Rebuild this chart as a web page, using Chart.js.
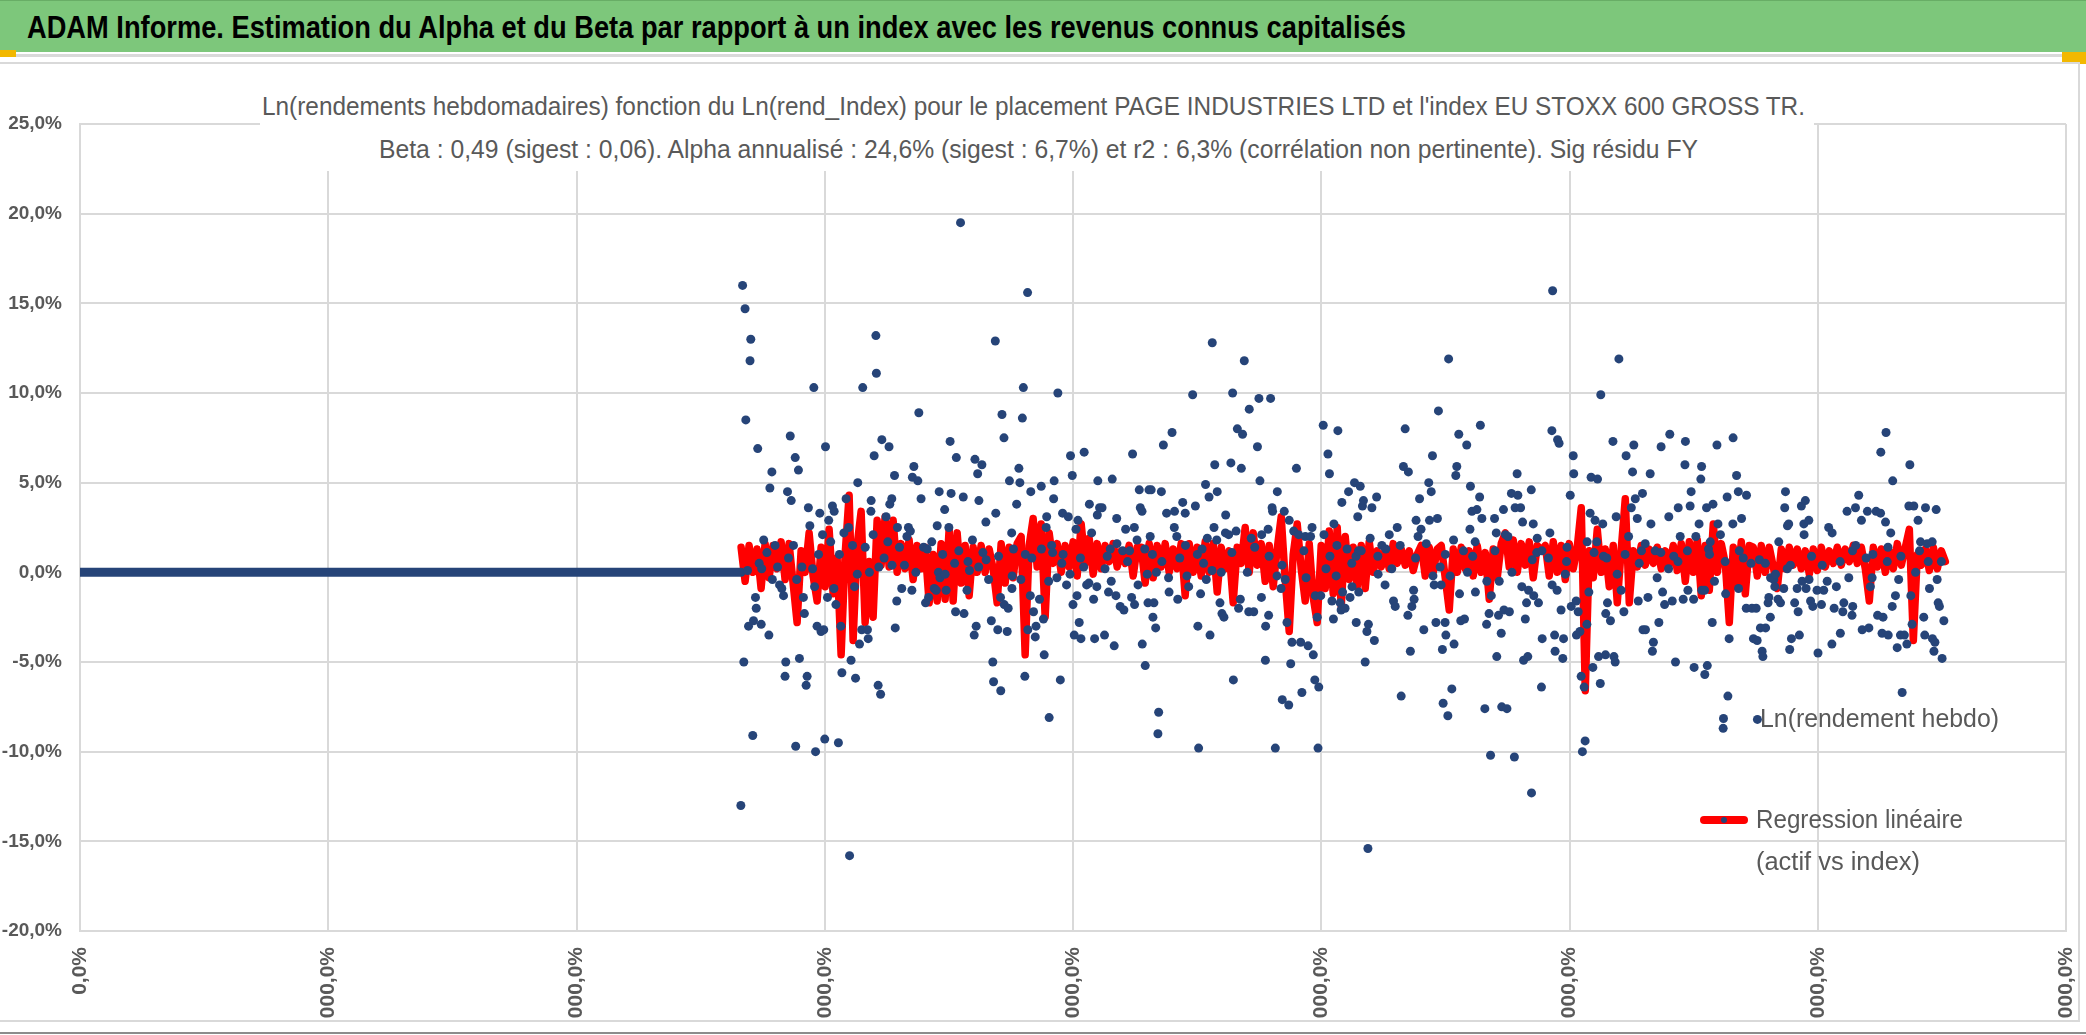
<!DOCTYPE html>
<html>
<head>
<meta charset="utf-8">
<script src="https://cdn.jsdelivr.net/npm/chart.js@4.4.1/dist/chart.umd.min.js"></script>
<style>
  html, body { margin: 0; padding: 0; background: #fff; }
  body { width: 2086px; height: 1035px; position: relative; overflow: hidden;
         font-family: 'Liberation Sans Narrow', 'Liberation Sans', Arial, sans-serif; }
  #hdr { position: absolute; left: 0; top: 0; width: 2086px; height: 52px; background: #7dc77b; border-top: 1px solid #68ad66; box-sizing: border-box; }
  #hdrRule { position: absolute; left: 0; top: 54px; width: 2086px; height: 3px; background: #d9d9d9; }
  .gold { position: absolute; background: #f2b800; }
  #frame { position: absolute; left: 0; top: 62px; width: 2080px; height: 960px; border: 2px solid #d9d9d9; border-left: none; box-sizing: border-box; }
  #plotWrap { position: absolute; left: 0; top: 62px; width: 2080px; height: 959px; }
  #titleBox { position: absolute; left: 260px; top: 90px; width: 1554px; height: 81px; background: #fff; }
  #bottomRule { position: absolute; left: 0; top: 1032px; width: 2086px; height: 2px; background: #8c8c8c; }
  .fit { position: absolute; white-space: nowrap; transform-origin: left center; line-height: 1; }
  #hdrText { left: 27px; top: 11px; font-size: 32px; font-weight: bold; color: #000; }
  .title { font-size: 25px; color: #595959; }
  .leg { font-size: 25px; color: #595959; }
  .dot { position: absolute; border-radius: 50%; background: #264478; }
</style>
</head>
<body>
<div id="hdr"></div>
<span id="hdrText" class="fit">ADAM Informe. Estimation du Alpha et du Beta par rapport à un index avec les revenus connus capitalisés</span>
<div id="hdrRule"></div>
<div class="gold" style="left:0;top:50px;width:16px;height:7px;"></div>
<div class="gold" style="left:2062px;top:52px;width:24px;height:12px;"></div>
<div id="frame"></div>
<div id="plotWrap"><canvas id="chart" width="2080" height="959"></canvas></div>
<div id="titleBox"></div>
<span id="title1" class="fit title" style="left:262px;top:94px;">Ln(rendements hebdomadaires) fonction du Ln(rend_Index) pour le placement PAGE INDUSTRIES LTD et l'index EU STOXX 600 GROSS TR.</span>
<span id="title2" class="fit title" style="left:379px;top:137px;">Beta : 0,49 (sigest : 0,06). Alpha annualisé : 24,6% (sigest : 6,7%) et r2 : 6,3% (corrélation non pertinente). Sig résidu FY</span>
<div class="dot" style="left:1719px;top:714px;width:9px;height:9px;"></div>
<span id="leg1" class="fit leg" style="left:1760px;top:706px;">Ln(rendement hebdo)</span>
<div style="position:absolute;left:1700px;top:816px;width:48px;height:8px;background:#ff0000;border-radius:4px;"></div>
<div class="dot" style="left:1721px;top:817px;width:6px;height:6px;"></div>
<span id="leg2" class="fit leg" style="left:1756px;top:807px;">Regression linéaire</span>
<span id="leg3" class="fit leg" style="left:1756px;top:849px;">(actif vs index)</span>
<div id="bottomRule"></div>
<script>
const FONT = "'Liberation Sans Narrow', 'Liberation Sans', Arial, sans-serif";

const yTickLabels = ['-20,0%', '-15,0%', '-10,0%', '-5,0%', '0,0%', '5,0%', '10,0%', '15,0%', '20,0%', '25,0%'];
const xTickLabels = ['0,0%', '000,0%', '000,0%', '000,0%', '000,0%', '000,0%', '000,0%', '000,0%', '000,0%'];

// weeks before the first quote are plotted at 0
const zeroRun = [[0, 0], [2.663, 0]];

// regression values (%), one every REG_STEP on the x axis
const REG_START = 2.663;
const REG_STEP = 0.016116;
const regression = [
  1.4,-0.5,1.5,0.0,1.3,-0.9,1.6,-0.3,1.5,0.2,
  1.7,-0.4,1.6,-0.6,-2.8,1.2,0.0,2.2,-0.2,-1.6,
  1.4,-0.8,2.4,-1.2,0.8,-4.6,1.0,4.3,-3.8,1.5,
  3.4,-2.8,0.6,-2.5,2.9,0.4,3.1,0.3,2.9,0.0,
  1.6,0.2,1.8,-0.4,1.5,0.2,1.4,-1.7,1.0,-1.6,
  1.6,-1.5,2.4,-1.6,2.2,-0.6,1.5,-1.3,1.4,0.0,
  1.5,0.0,1.3,0.2,-1.7,1.6,-0.6,1.4,-0.3,1.6,
  2.0,-4.6,1.5,3.0,0.3,2.7,-2.5,2.2,0.5,1.6,
  0.0,1.5,0.3,1.7,-0.2,2.7,0.5,1.9,-0.1,1.6,
  0.2,1.5,0.6,1.6,0.3,1.2,0.5,1.5,-0.2,1.4,
  1.4,-0.6,1.6,-0.3,1.5,0.3,1.6,0.0,1.3,0.2,
  1.6,-1.3,1.6,0.0,1.4,-0.2,1.7,0.0,1.6,-1.1,
  1.4,0.2,1.2,-1.7,1.4,0.5,2.5,0.0,2.2,0.4,
  1.6,-0.5,1.5,-0.8,1.3,3.1,-0.4,-3.3,1.0,2.7,
  0.2,-1.6,1.6,-1.4,-2.8,1.5,-0.9,2.3,-1.2,2.5,
  -1.9,2.0,-0.4,1.4,-0.8,1.5,-0.9,1.7,0.0,1.2,
  0.3,1.3,0.2,1.6,0.5,1.3,0.4,1.2,0.1,1.0,
  1.5,-0.2,1.4,0.0,1.3,1.5,-0.3,-2.1,1.3,0.0,
  1.4,0.2,1.2,-0.2,1.5,0.0,1.1,-1.5,1.3,-0.3,
  1.6,2.2,0.3,1.8,0.0,1.6,0.4,1.7,-0.3,1.5,
  1.2,
  1.5,-0.2,1.7,0.0,1.5,-0.4,1.6,0.2,1.4,3.6,
  -6.6,1.2,-0.3,2.4,0.0,1.3,-0.8,1.5,-1.7,1.3,
  4.1,-1.7,1.2,0.3,1.5,0.4,1.3,0.5,1.4,0.2,
  1.2,0.4,1.5,0.1,1.6,-0.5,1.7,0.0,1.8,-1.3,
  1.5,-1.0,2.7,0.0,1.6,0.5,-2.8,1.4,-0.8,1.7,
  -1.2,1.5,
  1.4,-0.2,1.5,0.0,1.4,0.3,-0.9,1.3,0.2,1.4,
  0.4,1.3,0.2,1.2,-0.1,1.3,0.1,1.4,0.3,1.2,
  0.5,1.4,0.4,1.3,0.6,1.5,0.5,1.4,0.2,-1.6,
  1.4,0.3,1.3,0.0,1.2,0.2,1.6,0.4,1.4,2.4,
  -3.8,1.0,0.4,1.3,0.1,1.4,0.2,1.2,0.6
];

// weekly log returns (%): [x, y]
const hebdo = [
  [2.662,-13.0],[2.669,16.0],[2.674,-5.0],[2.679,14.7],[2.682,8.5],[2.689,0.1],[2.693,-3.0],[2.699,11.8],[2.702,13.0],[2.710,-9.1],
  [2.713,-2.7],[2.721,-1.4],[2.724,-2.0],[2.730,6.9],[2.736,0.5],[2.744,-2.9],[2.746,0.2],[2.754,1.8],[2.767,1.1],[2.775,-3.5],
  [2.779,4.7],[2.787,5.6],[2.789,-0.4],[2.800,1.5],[2.810,0.3],[2.818,-0.7],[2.827,-0.9],[2.834,-1.3],[2.840,-5.8],[2.843,-5.0],
  [2.850,4.5],[2.854,0.8],[2.861,7.6],[2.865,4.0],[2.874,1.5],[2.881,6.4],[2.883,-9.7],[2.887,-0.4],[2.894,5.7],[2.898,-4.8],
  [2.908,0.3],[2.914,-1.4],[2.918,-2.3],[2.925,-6.3],[2.929,-5.8],[2.934,3.6],[2.940,2.6],[2.951,0.2],[2.956,10.3],[2.959,-0.8],
  [2.963,-10.0],[2.969,-3.0],[2.975,1.0],[2.980,3.3],[2.985,-3.3],[2.991,2.1],[2.996,-3.2],[3.000,-9.3],[3.003,7.0],[3.011,-1.4],
  [3.016,2.9],[3.024,1.7],[3.031,3.7],[3.037,-0.9],[3.038,3.4],[3.045,-1.8],[3.055,-9.5],[3.059,1.0],[3.065,-3.0],[3.069,-5.6],
  [3.077,2.2],[3.086,4.1],[3.096,2.5],[3.100,-15.8],[3.106,-4.9],[3.112,1.5],[3.120,-0.8],[3.124,-5.9],[3.131,-0.1],[3.133,5.0],
  [3.140,-4.0],[3.149,-3.2],[3.153,10.3],[3.163,1.4],[3.172,-3.2],[3.175,-3.7],[3.180,0.0],[3.186,3.4],[3.187,4.0],[3.195,2.1],
  [3.199,6.5],[3.206,13.2],[3.208,11.1],[3.215,-6.3],[3.218,0.3],[3.225,-6.8],[3.230,7.4],[3.239,0.8],[3.247,3.1],[3.254,1.7],
  [3.259,7.0],[3.262,3.8],[3.270,4.1],[3.271,0.4],[3.281,5.4],[3.284,-3.1],[3.290,-1.6],[3.293,2.5],[3.301,1.4],[3.310,-0.9],
  [3.321,0.4],[3.331,2.0],[3.337,2.5],[3.345,2.3],[3.351,-1.0],[3.353,5.3],[3.359,5.9],[3.367,0.0],[3.375,5.1],[3.379,8.9],
  [3.388,4.1],[3.398,1.4],[3.406,-1.7],[3.413,1.3],[3.418,-1.4],[3.431,1.7],[3.441,-0.9],

  [3.449,-1.0],[3.453,2.6],[3.458,0.0],[3.461,4.5],[3.464,-0.3],[3.475,1.0],[3.483,3.5],[3.485,-0.1],[3.489,-1.0],[3.500,2.5],
  [3.505,7.3],[3.509,4.4],[3.523,0.5],[3.527,-2.2],[3.530,6.4],[3.540,1.2],[3.547,19.5],[3.558,4.2],[3.561,-2.3],[3.573,-1.0],[3.577,0.6],
  [3.583,0.1],[3.595,1.8],[3.602,-3.5],[3.605,6.3],[3.610,-3.0],[3.616,5.5],[3.620,0.3],[3.621,4.0],[3.633,6.0],[3.637,1.1],
  [3.649,2.8],[3.650,0.7],[3.660,-0.4],[3.671,-2.7],[3.677,-5.0],[3.680,-6.1],[3.687,12.9],[3.689,3.3],[3.697,-3.2],[3.700,0.9],[3.708,-1.4],
  [3.709,-6.6],[3.714,8.8],[3.722,7.5],[3.723,-1.8],[3.735,-3.3],[3.739,-2.0],[3.744,5.1],[3.753,2.2],[3.754,-0.9],[3.755,-0.2],
  [3.760,1.3],[3.773,3.8],[3.782,5.8],[3.786,5.0],[3.790,-0.4],[3.796,8.6],[3.800,10.3],[3.806,-5.8],[3.808,1.0],[3.817,15.6],[3.818,-3.2],
  [3.828,-1.3],[3.830,4.5],[3.834,0.8],[3.841,-2.2],[3.848,-3.6],[3.851,-3.0],[3.865,-1.5],[3.872,4.8],[3.873,1.3],[3.881,-2.6],
  [3.884,-4.6],[3.892,2.5],[3.894,3.1],[3.902,-0.5],[3.904,-8.1],[3.914,1.5],[3.918,1.1],[3.922,4.1],[3.924,5.1],[3.935,-0.3],
  [3.939,10.0],[3.949,-6.0],[3.955,0.5],[3.958,3.3],[3.960,1.0],[3.974,-0.7],[3.981,3.1],[3.988,-0.1],[3.990,6.5],[3.997,5.4],[4.000,-1.8],
  [4.005,-3.5],[4.012,2.4],[4.016,-1.3],[4.020,2.9],[4.025,-2.8],[4.030,0.8],[4.032,-3.7],[4.043,0.3],[4.045,6.7],[4.055,-0.7],[4.064,-0.6],
  [4.066,3.8],[4.075,2.2],[4.083,-1.5],[4.087,-3.7],[4.096,-0.8],[4.098,3.2],[4.100,5.1],[4.107,3.6],[4.117,3.6],[4.127,-3.5],
  [4.129,0.2],[4.138,0.9],[4.143,-1.1],[4.150,1.3],[4.154,-0.5],[4.158,5.2],[4.166,-4.1],[4.173,-1.3],[4.176,3.0],[4.177,1.6],[4.190,-1.9],
  [4.200,1.2],[4.205,-2.1],[4.212,2.4],[4.220,0.6],[4.228,1.2],[4.236,-1.4],[4.240,6.6],[4.247,2.5],[4.248,-1.8],

  [4.258,1.8],[4.262,-0.7],[4.267,4.6],[4.271,3.6],[4.278,3.4],[4.279,-4.0],[4.289,1.3],[4.291,-5.2],[4.299,-0.1],[4.302,-1.7],
  [4.306,4.6],[4.311,2.0],[4.315,4.6],[4.320,1.0],[4.322,-2.5],[4.326,-1.7],[4.333,-3.1],[4.336,0.0],[4.342,-9.0],[4.345,-7.8],
  [4.356,4.5],[4.358,0.6],[4.364,7.1],[4.377,3.3],[4.385,-0.3],[4.387,-1.1],[4.399,7.8],[4.408,2.5],[4.409,3.4],[4.418,2.0],
  [4.422,-1.5],[4.430,0.8],[4.442,3.9],[4.452,3.3],[4.453,1.5],[4.459,-0.2],[4.466,-0.8],[4.482,9.9],[4.493,3.7],[4.501,1.0],
  [4.503,-3.0],[4.506,-9.8],[4.514,-1.2],[4.520,1.3],[4.526,0.5],[4.534,4.9],[4.537,-0.4],[4.541,1.9],[4.548,4.2],[4.552,-3.5],
  [4.560,0.1],[4.561,12.8],[4.568,2.5],[4.571,6.0],[4.579,1.8],[4.581,4.5],[4.592,-1.7],[4.597,0.0],[4.600,-2.3],[4.608,-2.5],
  [4.614,2.2],[4.615,3.2],[4.627,2.1],[4.636,6.1],[4.640,1.1],[4.643,10.0],[4.646,-6.0],[4.657,2.3],[4.662,8.0],[4.667,-2.0],
  [4.674,-1.5],[4.678,5.8],[4.683,7.7],[4.690,11.8],[4.702,0.0],[4.708,-2.2],[4.710,9.1],[4.718,1.9],[4.728,-2.2],[4.732,1.4],
  [4.743,7.0],[4.749,9.7],[4.753,5.1],[4.759,-1.4],[4.760,2.1],[4.775,-4.9],[4.776,-3.0],[4.786,2.4],[4.788,-2.4],[4.790,0.9],
  [4.796,9.7],[4.802,3.6],[4.804,3.4],[4.815,-9.8],[4.822,-0.2],[4.823,4.5],[4.838,-0.9],[4.842,0.4],[4.843,-7.1],[4.851,3.4],
  [4.855,-0.4],[4.862,-2.8],[4.869,-7.4],[4.871,2.9],[4.877,-5.1],[4.882,-3.9],[4.889,2.3],[4.900,5.8],[4.909,2.1],[4.917,-3.9],
  [4.922,-6.7],[4.930,1.2],[4.936,2.0],[4.939,-0.3],[4.947,-4.1],[4.957,2.0],[4.963,2.5],[4.968,-4.6],[4.974,-6.0],[4.976,-1.3],
  [4.984,-2.5],[4.987,-9.8],[4.990,-6.4],[4.998,-1.3],[5.008,8.2],[5.011,2.1],[5.019,0.2],[5.027,6.6],[5.033,5.5],[5.035,0.9],
  [5.043,-1.6],[5.049,-2.6],[5.051,2.7],

  [5.060,-0.2],[5.063,1.5],[5.067,7.9],[5.076,-1.7],[5.080,-2.1],[5.083,3.9],[5.086,-1.1],[5.096,-2.0],[5.104,1.3],[5.110,4.5],
  [5.116,-1.4],[5.123,0.5],[5.124,-0.8],[5.134,5.0],[5.140,0.9],[5.141,-2.8],[5.147,3.1],[5.150,1.2],[5.151,-1.1],[5.157,4.8],
  [5.161,1.2],[5.166,3.7],[5.170,4.0],[5.177,-5.0],[5.184,-3.3],[5.188,-15.4],[5.190,-2.9],[5.197,1.9],[5.204,3.6],[5.214,-3.8],
  [5.223,4.2],[5.228,0.9],[5.229,-0.1],[5.244,1.5],[5.257,-0.7],[5.260,1.3],[5.274,2.1],[5.284,0.2],[5.291,-1.6],[5.298,-1.9],
  [5.306,2.5],[5.318,1.5],[5.322,-6.9],[5.331,5.9],[5.338,8.0],[5.349,-2.4],[5.351,5.6],[5.359,-4.4],[5.365,-1.9],[5.372,-1.0],
  [5.374,-1.5],[5.380,0.8],[5.382,2.9],[5.390,2.0],[5.396,4.1],[5.402,2.4],[5.413,-3.2],[5.423,1.6],[5.433,5.0],[5.436,2.9],
  [5.443,4.5],[5.448,6.5],[5.450,-0.2],[5.455,-0.7],[5.462,-2.8],[5.468,3.0],[5.472,9.0],[5.479,0.3],[5.483,-0.7],[5.488,-4.3],
  [5.491,-7.3],[5.499,-2.8],[5.500,1.0],[5.502,-3.5],[5.510,-8.0],[5.513,11.9],[5.519,-0.2],[5.526,-6.5],[5.533,1.8],[5.535,-4.0],
  [5.542,5.4],[5.546,5.9],[5.554,7.7],[5.557,-1.2],[5.562,-2.7],[5.573,1.2],[5.577,-2.6],[5.586,7.1],[5.589,0.0],[5.599,2.4],
  [5.601,4.8],[5.607,3.4],[5.610,0.9],[5.620,1.7],[5.621,-1.1],[5.627,3.5],[5.638,4.2],[5.641,8.2],[5.647,3.0],[5.659,-7.6],
  [5.666,-2.9],[5.667,-0.5],[5.676,-2.3],[5.682,-10.2],[5.685,-1.3],[5.698,3.0],[5.700,1.2],[5.705,2.2],[5.707,-4.7],[5.714,-2.4],
  [5.717,-0.5],[5.725,-3.4],[5.727,-7.5],[5.734,3.5],[5.736,-2.1],[5.742,2.1],[5.748,-7.6],[5.752,2.0],[5.758,-2.2],[5.766,4.4],
  [5.768,0.0],[5.778,-10.3],[5.781,3.6],[5.789,5.5],[5.792,4.3],[5.803,3.6],[5.808,-0.8],[5.811,2.8],[5.815,-4.9],[5.822,-2.6],
  [5.827,-1.7],[5.832,-4.7],[5.835,-1.0],[5.846,4.6],[5.847,-12.3],[5.850,0.7],[5.854,2.7],[5.856,-1.3],[5.868,1.1],[5.870,1.9],
  [5.875,-1.7],[5.887,-6.4],[5.889,1.2],[5.890,-3.7],

  [5.915,0.8],[5.921,2.2],[5.929,7.9],[5.930,-0.7],[5.932,15.7],[5.940,-3.5],[5.942,-4.4],[5.950,-1.0],[5.952,7.4],[5.958,7.2],
  [5.966,-2.1],[5.973,-4.8],[5.976,-3.7],[5.983,-0.1],[5.988,0.6],[5.990,1.4],[6.003,4.3],[6.007,-1.9],[6.015,6.5],[6.017,5.5],
  [6.027,-1.6],[6.028,-3.5],[6.035,-2.2],[6.042,-3.3],[6.047,-5.8],[6.052,-10.0],[6.059,-6.4],[6.063,-9.4],[6.070,-2.9],[6.071,1.7],
  [6.078,-1.1],[6.083,3.3],[6.087,5.3],[6.094,-5.3],[6.099,1.1],[6.103,2.9],[6.110,1.7],[6.113,5.2],[6.117,-4.7],[6.124,-6.2],
  [6.126,9.9],[6.134,2.7],[6.137,0.9],[6.145,-4.6],[6.146,-2.3],[6.150,0.8],[6.153,-1.7],[6.165,-2.7],[6.175,7.3],[6.179,-4.7],
  [6.184,-5.0],[6.188,3.1],[6.192,-0.1],[6.199,11.9],[6.208,-1.0],[6.219,-2.2],[6.224,1.0],[6.228,6.5],[6.238,2.0],[6.249,3.6],
  [6.254,5.6],[6.259,7.1],[6.265,4.1],[6.273,3.0],[6.277,-1.6],[6.281,0.5],[6.290,1.2],[6.294,4.4],[6.296,-3.2],[6.305,1.6],
  [6.306,-3.2],[6.316,-1.4],[6.325,5.5],[6.328,2.7],[6.334,-4.4],[6.338,-3.9],[6.345,1.2],[6.353,-0.3],[6.360,-2.8],[6.368,1.1],
  [6.369,7.0],[6.375,-1.1],[6.383,-1.8],[6.399,0.2],[6.400,3.1],[6.404,7.7],[6.414,-1.6],[6.420,0.9],[6.427,-5.0],[6.437,0.6],
  [6.438,3.6],[6.446,2.0],[6.458,-1.5],[6.465,6.0],[6.467,7.3],[6.475,1.2],[6.477,-1.0],[6.486,3.7],[6.490,4.5],[6.500,-1.5],
  [6.502,-5.3],[6.509,2.0],[6.522,2.7],[6.529,5.2],[6.532,5.9],[6.533,-1.0],[6.544,-1.0],[6.545,-5.7],[6.552,3.6],[6.555,-5.2],
  [6.560,1.3],[6.564,1.0],[6.567,1.7],[6.575,-2.8],[6.578,3.8],[6.584,-0.5],[6.594,7.1],[6.598,2.7],[6.608,2.1],[6.619,-8.7],
  [6.627,0.6],[6.629,-1.2],[6.635,4.2],[6.638,-6.9],[6.643,-3.7],[6.658,2.7],[6.659,7.5],[6.673,5.4],[6.680,4.5],[6.681,-0.9],
  [6.684,1.2],[6.693,3.0],[6.700,0.8],[6.712,-2.0],[6.713,4.3],[6.731,0.5],[6.735,-2.0],[6.741,-3.7],

  [6.752,-2.0],[6.756,-3.8],[6.757,-8.2],[6.765,0.7],[6.769,-3.1],[6.776,-4.4],[6.779,-4.7],[6.789,0.5],[6.790,-3.1],[6.800,-1.7],
  [6.803,-1.4],[6.809,-2.5],[6.810,-0.3],[6.823,-0.4],[6.827,-0.8],[6.830,-0.1],[6.840,-1.5],[6.843,1.7],[6.850,-1.7],[6.863,-0.9],
  [6.867,3.6],[6.870,4.5],[6.877,0.2],[6.878,2.6],[6.883,2.7],[6.887,-4.3],[6.890,0.4],[6.894,-3.7],[6.907,-1.7],[6.917,-0.9],
  [6.921,-2.2],[6.926,-3.5],[6.934,3.7],[6.937,-0.5],[6.944,2.7],[6.945,2.1],[6.950,4.0],[6.953,-0.9],[6.964,2.9],[6.965,-0.4],
  [6.971,-1.6],[6.975,0.9],[6.980,-1.9],[6.997,-1.0],[7.001,-4.5],[7.015,-1.8],[7.018,0.4],[7.024,-1.0],[7.038,-0.5],[7.044,2.5],
  [7.057,-4.0],[7.058,2.2],[7.066,-2.0],[7.075,-0.8],[7.090,0.6],[7.091,-3.4],[7.101,-2.2],[7.105,-1.7],[7.118,3.4],[7.125,-0.3],
  [7.138,-2.4],[7.140,1.2],[7.141,-1.9],[7.152,3.6],[7.153,1.5],[7.165,4.3],[7.176,2.9],[7.179,-3.2],[7.195,0.8],[7.200,3.4],
  [7.206,-3.1],[7.212,-0.8],[7.219,-0.3],[7.222,1.0],[7.235,3.4],[7.241,-2.4],[7.253,3.3],[7.254,6.7],[7.259,-3.4],[7.263,-2.5],
  [7.273,2.8],[7.275,7.8],[7.280,0.6],[7.283,1.4],[7.284,-3.5],[7.294,2.2],[7.300,-1.9],[7.302,5.1],[7.313,-1.3],[7.320,-4.2],
  [7.326,-0.4],[7.333,-3.5],[7.335,0.9],[7.340,-6.7],[7.349,-3.5],[7.359,-4.0],[7.367,3.7],[7.371,6.0],[7.375,-1.3],[7.380,-2.9],
  [7.387,3.7],[7.394,0.0],[7.404,2.9],[7.410,1.2],[7.414,1.7],[7.427,-2.5],[7.431,-3.5],[7.434,3.6],[7.441,1.6],[7.445,0.6],
  [7.450,-0.9],[7.461,1.7],[7.462,-3.7],[7.468,-4.4],[7.472,-3.9],[7.477,3.5],[7.481,-0.4],[7.485,-1.7],[7.490,-1.9],[7.498,0.6],
  [7.501,-4.8],[7.508,-2.7]
];

const toXY = ([x, y]) => ({ x: x, y: y });

new Chart(document.getElementById('chart'), {
  type: 'scatter',
  data: {
    datasets: [
      {
        label: 'Ln(rendement hebdo)',
        data: hebdo.map(toXY),
        backgroundColor: '#264478',
        borderColor: '#264478',
        pointRadius: 4.5,
        pointBorderWidth: 0,
        order: 0
      },
      {
        label: 'Ln(rendement hebdo) 0',
        type: 'line',
        data: zeroRun.map(toXY),
        borderColor: '#264478',
        borderWidth: 9,
        borderCapStyle: 'round',
        pointRadius: 0,
        order: 1
      },
      {
        label: 'Regression linéaire (actif vs index)',
        type: 'line',
        data: regression.map((y, i) => ({ x: REG_START + i * REG_STEP, y: y })),
        borderColor: '#ff0000',
        borderWidth: 7.5,
        borderJoinStyle: 'round',
        borderCapStyle: 'round',
        pointRadius: 0,
        tension: 0,
        order: 2
      }
    ]
  },
  options: {
    responsive: false,
    animation: false,
    devicePixelRatio: 1,
    layout: { padding: { top: 62, right: 14, left: 0, bottom: 0 } },
    plugins: { legend: { display: false }, title: { display: false }, tooltip: { enabled: false } },
    scales: {
      x: {
        type: 'linear',
        min: 0,
        max: 8,
        afterBuildTicks: (scale) => { scale.ticks = xTickLabels.map((t, i) => ({ value: i })); },
        afterFit: (scale) => { scale.height = 90; scale.paddingLeft = 0; scale.paddingRight = 0; },
        grid: { color: '#d9d9d9', lineWidth: 2, drawTicks: false },
        border: { color: '#d9d9d9', width: 2 },
        ticks: {
          autoSkip: false,
          minRotation: 90,
          maxRotation: 90,
          padding: 16,
          color: '#595959',
          font: { family: FONT, size: 21, weight: 'bold' },
          callback: (v, i) => xTickLabels[i]
        }
      },
      y: {
        min: -20,
        max: 25,
        afterFit: (scale) => { scale.width = 80; },
        grid: { color: '#d9d9d9', lineWidth: 2, drawTicks: false },
        border: { color: '#d9d9d9', width: 2 },
        ticks: {
          stepSize: 5,
          padding: 18,
          color: '#595959',
          font: { family: FONT, size: 19, weight: 'bold' },
          callback: (v, i) => yTickLabels[i]
        }
      }
    }
  }
});

function fit(id, width) {
  const el = document.getElementById(id);
  el.style.transform = 'none';
  const w = el.getBoundingClientRect().width;
  if (w > 0) el.style.transform = 'scaleX(' + (width / w) + ')';
}
function fitAll() {
  fit('hdrText', 1379);
  fit('title1', 1543);
  fit('title2', 1319);
  fit('leg1', 239);
  fit('leg2', 207);
  fit('leg3', 164);
}
fitAll();
document.fonts.ready.then(fitAll);
</script>
</body>
</html>
